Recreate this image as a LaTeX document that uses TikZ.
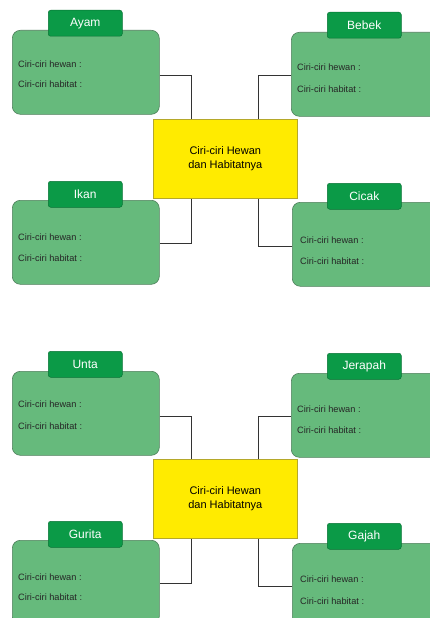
\documentclass[tikz,border=0pt]{standalone}
\usepackage{fontspec}
\setmainfont{Liberation Sans}
\definecolor{boxgreen}{HTML}{66BA7C}
\definecolor{tabgreen}{HTML}{0B9A47}
\definecolor{boxline}{HTML}{4F7F5C}
\definecolor{hubyellow}{HTML}{FFEB00}
\definecolor{hubline}{HTML}{B5A82A}
\begin{document}
\begin{tikzpicture}[x=1pt,y=-1pt,
 card/.style={draw=boxline, line width=0.6pt, fill=boxgreen, rounded corners=8pt, minimum width=147pt, minimum height=84pt, inner sep=0pt, anchor=north west},
 rcard/.style={card, minimum width=165pt},
 tab/.style={draw=tabgreen!75!black, line width=0.5pt, fill=tabgreen, rounded corners=2.5pt, minimum width=74pt, minimum height=26pt, inner sep=0pt, anchor=north west, text=white, font=\fontsize{12}{14}\selectfont},
 info/.style={anchor=west, inner sep=0pt, font=\fontsize{9.2}{11}\selectfont, text=black!85},
 hub/.style={draw=hubline, line width=0.6pt, fill=hubyellow, minimum width=144pt, minimum height=79pt, inner sep=0pt, anchor=north west, align=center, font=\fontsize{11}{13.5}\selectfont},
 conn/.style={draw=black!80, line width=1pt}]
\useasboundingbox (0,0) rectangle (429,618);
\fill[white] (0,0) rectangle (429,618);

% ---------- top group ----------
\node[hub] (hub1) at (153,119) {Ciri-ciri Hewan\\dan Habitatnya};

\node[card] (ayam) at (12,30) {};
\node[tab] (ayamt) at (48,10) {Ayam};
\node[info] (ayam1) at (18,64) {Ciri-ciri hewan :};
\node[info] (ayam2) at (18,84) {Ciri-ciri habitat :};

\node[rcard] (bebek) at (291,32) {};
\node[tab] (bebekt) at (327,12) {Bebek};
\node[info] (bebek1) at (297,67) {Ciri-ciri hewan :};
\node[info] (bebek2) at (297,89) {Ciri-ciri habitat :};

\node[card] (ikan) at (12,200) {};
\node[tab] (ikant) at (48,181) {Ikan};
\node[info] (ikan1) at (18,237) {Ciri-ciri hewan :};
\node[info] (ikan2) at (18,258) {Ciri-ciri habitat :};

\node[rcard] (cicak) at (292,202) {};
\node[tab] (cicakt) at (327,183) {Cicak};
\node[info] (cicak1) at (300,240) {Ciri-ciri hewan :};
\node[info] (cicak2) at (300,261) {Ciri-ciri habitat :};

\coordinate (b1) at (291,75);
\coordinate (c1) at (292,246);
\draw[conn] ([yshift=-3pt]ayam.east) -| ([xshift=-34pt]hub1.north);
\draw[conn] (b1) -| ([xshift=33pt]hub1.north);
\draw[conn] ([xshift=-34pt]hub1.south) |- ([yshift=-1.5pt]ikan.east);
\draw[conn] ([xshift=33pt]hub1.south) |- (c1);

% ---------- bottom group ----------
\node[hub] (hub2) at (153,459) {Ciri-ciri Hewan\\dan Habitatnya};

\node[card] (unta) at (12,371) {};
\node[tab] (untat) at (48,351) {Unta};
\node[info] (unta1) at (18,404) {Ciri-ciri hewan :};
\node[info] (unta2) at (18,426) {Ciri-ciri habitat :};

\node[rcard] (jerapah) at (291,373) {};
\node[tab] (jerapaht) at (327,353) {Jerapah};
\node[info] (jerapah1) at (297,409) {Ciri-ciri hewan :};
\node[info] (jerapah2) at (297,430) {Ciri-ciri habitat :};

\node[card] (gurita) at (12,540) {};
\node[tab] (guritat) at (48,521) {Gurita};
\node[info] (gurita1) at (18,577) {Ciri-ciri hewan :};
\node[info] (gurita2) at (18,597) {Ciri-ciri habitat :};

\node[rcard] (gajah) at (292,543) {};
\node[tab] (gajaht) at (327,523) {Gajah};
\node[info] (gajah1) at (300,579) {Ciri-ciri hewan :};
\node[info] (gajah2) at (300,601) {Ciri-ciri habitat :};

\coordinate (j1) at (291,416);
\coordinate (g1) at (292,586);
\draw[conn] ([yshift=-3pt]unta.east) -| ([xshift=-34pt]hub2.north);
\draw[conn] (j1) -| ([xshift=33pt]hub2.north);
\draw[conn] ([xshift=-34pt]hub2.south) |- ([yshift=-1pt]gurita.east);
\draw[conn] ([xshift=33pt]hub2.south) |- (g1);
\end{tikzpicture}
\end{document}
